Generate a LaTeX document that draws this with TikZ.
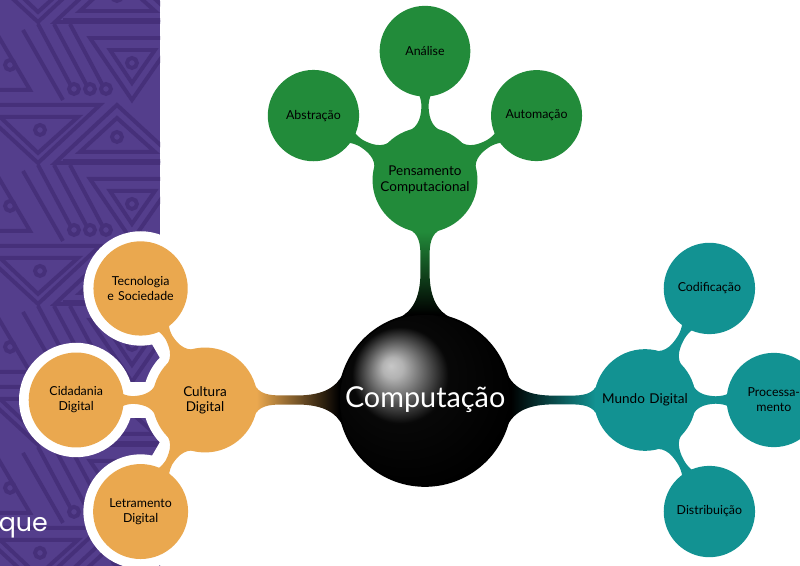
\documentclass[tikz,border=0pt]{standalone}
\usepackage{fontspec}
\setmainfont{Lato}
\newfontfamily\quefont{Poppins}
\usetikzlibrary{mindmap,backgrounds}

\definecolor{pensgreen}{HTML}{228B3A}
\definecolor{mundoteal}{HTML}{129292}
\definecolor{culturaorange}{HTML}{EAA84F}
\definecolor{panelpurple}{HTML}{543E8C}
\definecolor{panelline}{HTML}{46307A}

\pgfdeclareradialshading{rootball}{\pgfpoint{-10bp}{10bp}}{color(0bp)=(black!22); color(3bp)=(black!30); color(14bp)=(black!97); color(30bp)=(black); color(50bp)=(black)}

\begin{document}
\begin{tikzpicture}[mindmap,
    level 1/.append style={edge from parent/.append style={line width=8pt}},
    level 2/.append style={edge from parent/.append style={line width=5.5pt}},
    level 1 concept/.append style={level distance=5.5cm, minimum size=2.5cm, text width=2.4cm, align=center, font=\fontsize{9.6}{11}\selectfont},
    level 2 concept/.append style={level distance=3.22cm, minimum size=1.95cm, text width=1.9cm, align=center, font=\fontsize{8.8}{10.6}\selectfont},
    panel/.style={draw=panelline, line width=2.8pt}]
  \useasboundingbox (0,0) rectangle (20,14.15);

  \path[concept color=black] (10.625,4.15) node[concept, minimum size=4.3cm, text width=4cm, align=center, shade, shading=rootball, text=white, font=\fontsize{20.5}{24}\selectfont] (comp) {Computação}
    child[grow=90, concept color=pensgreen] {node[concept] (pens) {Pensamento\\Computacional}
      child[grow=150] {node[concept] (abst) {Abstração}}
      child[grow=90] {node[concept] (anal) {Análise}}
      child[grow=30] {node[concept] (auto) {Automação}}}
    child[grow=0, concept color=mundoteal] {node[concept] (mund) {Mundo Digital}
      child[grow=60] {node[concept] (codi) {Codificação}}
      child[grow=0] {node[concept] (proc) {Processa-\\mento}}
      child[grow=-60] {node[concept] (dist) {Distribuição}}}
    child[grow=180, concept color=culturaorange] {node[concept] (cult) {Cultura\\Digital}
      child[grow=120] {node[concept] (tecn) {Tecnologia\\e Sociedade}}
      child[grow=180] {node[concept] (cida) {Cidadania\\Digital}}
      child[grow=240] {node[concept] (letr) {Letramento\\Digital}}};

  \begin{scope}[on background layer]
    \fill[panelpurple] (0,0) rectangle (4,14.15);
    \begin{scope}
      \clip (0,0) rectangle (4,14.15);
      \begin{scope}[shift={(0cm,14.15cm)}, x=0.025cm, y=-0.025cm]
        \foreach \t in {-141,0,141,282,423,564} {
          \begin{scope}[shift={(0,\t)}]
            \draw[panel] (63,20) -- (190,20);
            \draw[panel] (90,38) -- (175,38) -- (132,100) -- cycle;
            \draw[panel] (110,50) -- (155,50) -- (132,83) -- cycle;
            \draw[panel] (132,63) circle (5);
            \draw[panel] (55,163) -- (117,105) -- (180,163) -- cycle;
            \draw[panel] (80,152) -- (117,118) -- (155,152) -- cycle;
            \draw[panel] (117,137) circle (5);
            \draw[panel] (-25,105) -- (100,105) -- (38,163) -- cycle;
            \draw[panel] (0,117) -- (78,117) -- (38,153) -- cycle;
            \draw[panel] (40,130) circle (5);
            \draw[panel] (-30,38) -- (-10,22) -- (30,90) -- (-30,90);
            \draw[panel] (10,65) circle (5);
            \draw[panel] (23,30) -- (63,100);
            \draw[panel] (38,24) -- (70,84);
            \draw[panel] (54,24) -- (86,84);
            \draw[panel] (70,24) -- (102,84);
            \draw[panel] (74,89) circle (5);
            \draw[panel] (90,89) circle (5);
            \draw[panel] (106,89) circle (5);
          \end{scope}
        }
      \end{scope}
    \end{scope}
    \fill[white] (cult) circle (1.55);
    \foreach \leaf in {tecn,cida,letr} {
      \fill[white] (\leaf) circle (1.43);
      \draw[white, line width=0.9cm] (cult.center) -- (\leaf.center);
    }
  \end{scope}

  \node[rectangle, minimum size=0pt, text width=1.4cm, align=left, anchor=base west, text=white, font=\quefont\fontsize{18}{20}\selectfont, inner sep=0pt] (que) at (-0.03,0.87) {que};
\end{tikzpicture}
\end{document}
